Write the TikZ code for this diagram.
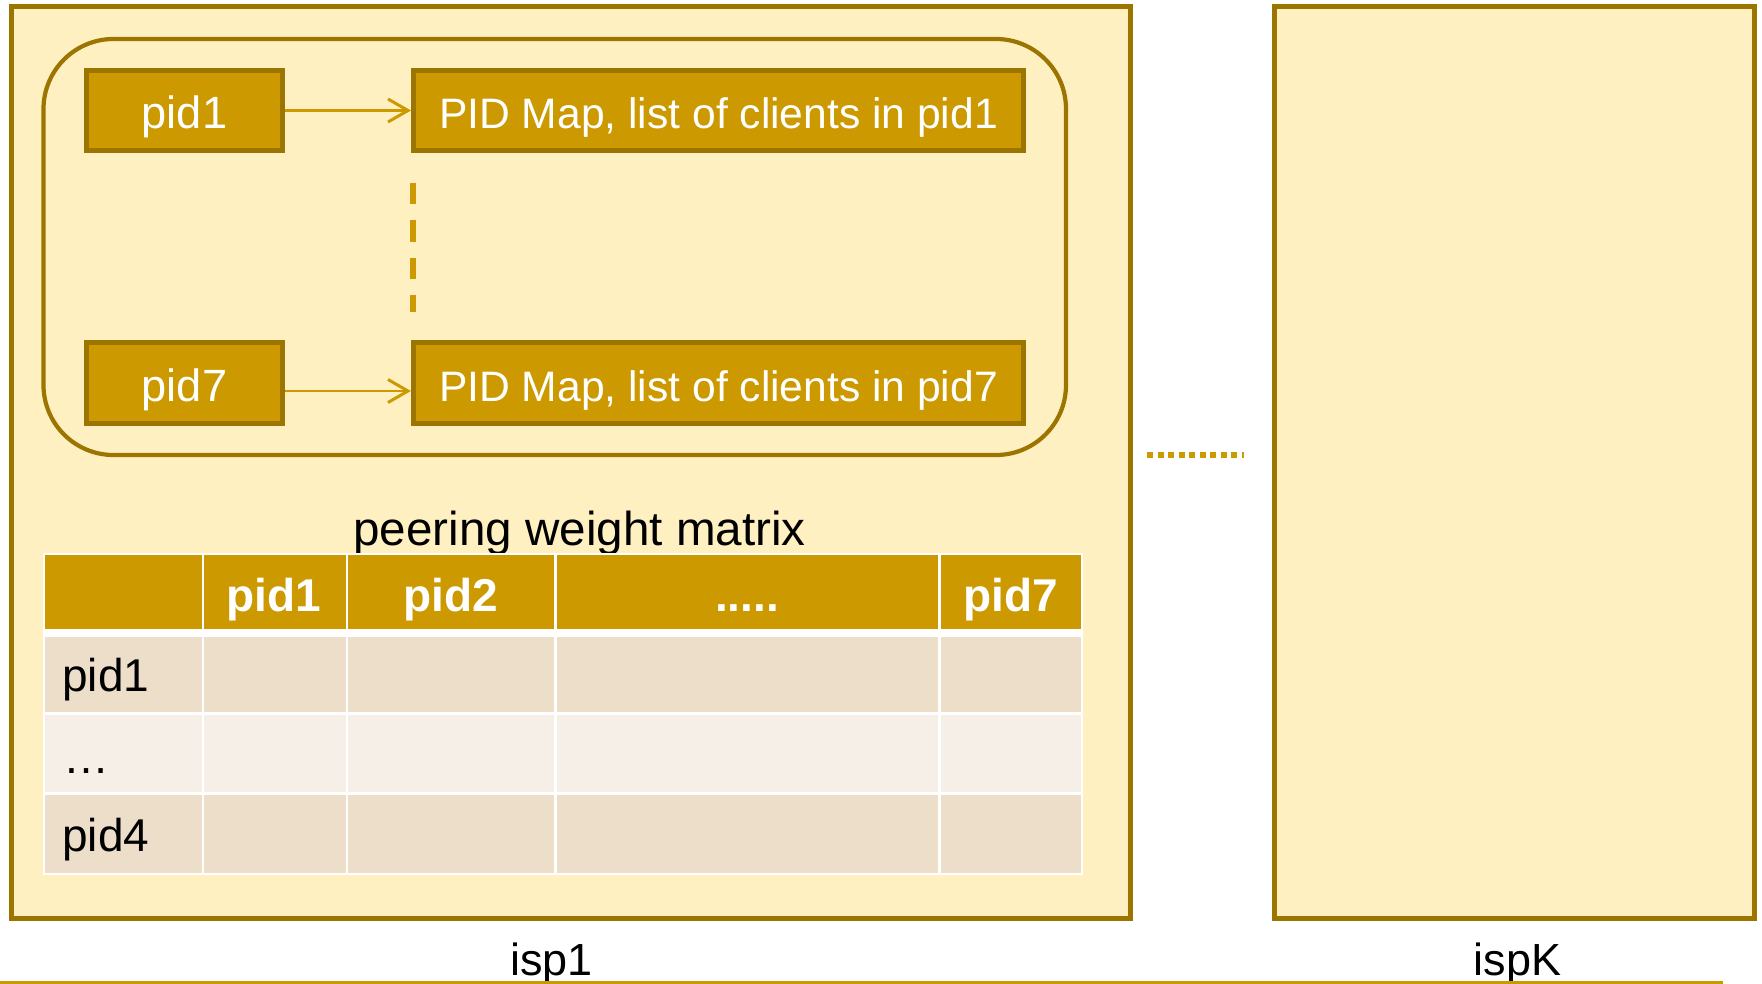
\documentclass[tikz,border=0pt]{standalone}
\usepackage{fontspec}
\setmainfont{Liberation Sans}
\usetikzlibrary{arrows.meta}

\definecolor{gold}{HTML}{CC9900}
\definecolor{darkgold}{HTML}{9C7400}
\definecolor{ispfill}{HTML}{FFF0C2}
\definecolor{rowdark}{HTML}{EDDECA}
\definecolor{rowlight}{HTML}{F6EFE7}

\newcommand{\fs}[1]{\fontsize{#1}{1.2\dimexpr#1\relax}\selectfont}

\begin{document}
\begin{tikzpicture}[x=0.5pt,y=-0.5pt,
  ispbox/.style={draw=darkgold, fill=ispfill, line width=2.5pt, inner sep=0pt},
  pidbox/.style={draw=darkgold, fill=gold, line width=2.5pt, text=white,
    inner sep=0pt, minimum height=40pt, text height=18pt, text depth=0pt},
  maparrow/.style={draw=gold, line width=1.1pt,
    -{Straight Barb[length=10pt, width=11.5pt, line width=1.5pt]}},
  vdash/.style={draw=gold, line width=2.8pt, dash pattern=on 10.75pt off 8pt},
  hdots/.style={draw=gold, line width=2.7pt, dash pattern=on 3pt off 2.25pt},
  cellhead/.style={fill=gold},
  celldark/.style={fill=rowdark},
  celllight/.style={fill=rowlight},
  headtext/.style={text=white, anchor=base, inner sep=0pt, font=\fs{23pt}\bfseries},
  rowtext/.style={text=black, anchor=base west, inner sep=0pt, font=\fs{23pt}},
  label/.style={text=black, anchor=base, inner sep=0pt, font=\fs{22.5pt}}
]
\useasboundingbox (0,0) rectangle (1762,984);

% ISP containers
\node[ispbox, minimum width=559.75pt, minimum height=455.75pt] (isp1) at (570.75,462.75) {};
\node[ispbox, minimum width=240pt, minimum height=455.75pt] (ispK) at (1514.5,462.75) {};

% inner rounded frame holding the PID maps
\draw[darkgold, line width=2.1pt, rounded corners=35pt] (43.5,39) rectangle (1066,455);

% PID boxes and their maps
\node[pidbox, minimum width=98pt, font=\fs{22.6pt}] (pid1) at (184.5,110.5) {pid1};
\node[pidbox, minimum width=305pt, font=\fs{21.3pt}] (map1) at (718.5,110.5) {PID Map, list of clients in pid1};
\node[pidbox, minimum width=98pt, font=\fs{22.6pt}] (pid7) at (184.5,383) {pid7};
\node[pidbox, minimum width=305pt, font=\fs{21.3pt}] (map7) at (718.5,383) {PID Map, list of clients in pid7};

\draw[maparrow] (pid1.east) -- (map1.west);
\draw[maparrow] ([yshift=-4pt]pid7.east) -- ([yshift=-4pt]map7.west);

% elision between the maps
\coordinate (gapTop) at (413,183);
\coordinate (gapBot) at (413,312);
\draw[vdash] (gapTop) -- (gapBot);

% elision between the ISPs
\coordinate (ispGapL) at (1147,455);
\coordinate (ispGapR) at (1244,455);
\draw[hdots] (ispGapL) -- (ispGapR);

% peering weight matrix
\node[label, font=\fs{23.8pt}] (mtitle) at (579.5,545) {peering weight matrix};
\fill[white] (42.5,552.5) rectangle (1083,875);
% header row
\fill[cellhead] (44.5,555) rectangle (201.5,629);
\fill[cellhead] (204,555) rectangle (345.5,629);
\fill[cellhead] (348,555) rectangle (554,629);
\fill[cellhead] (557,555) rectangle (938,629);
\fill[cellhead] (941,555) rectangle (1081,629);
% body rows
\foreach \ya/\yb/\st in {637/712/celldark, 714.5/792/celllight, 794.5/872.5/celldark}{
  \fill[\st] (44.5,\ya) rectangle (201.5,\yb);
  \fill[\st] (204,\ya) rectangle (345.5,\yb);
  \fill[\st] (348,\ya) rectangle (554,\yb);
  \fill[\st] (557,\ya) rectangle (938,\yb);
  \fill[\st] (941,\ya) rectangle (1081,\yb);
}
\node[headtext] (h1) at (274,611) {pid1};
\node[headtext] (h2) at (450.5,611) {pid2};
\node[headtext] (h3) at (747,611) {.....};
\node[headtext] (h7) at (1011,611) {pid7};
\node[rowtext] (r1) at (62,691) {pid1};
\node[rowtext] (r2) at (63,773) {…};
\node[rowtext] (r4) at (62,851) {pid4};

% ISP names and base line
\node[label] (l1) at (551.5,975) {isp1};
\node[label] (lK) at (1517.5,975) {ispK};
\coordinate (baseL) at (0,982.5);
\coordinate (baseR) at (1723,982.5);
\draw[gold, line width=1.6pt] (baseL) -- (baseR);
\end{tikzpicture}
\end{document}
